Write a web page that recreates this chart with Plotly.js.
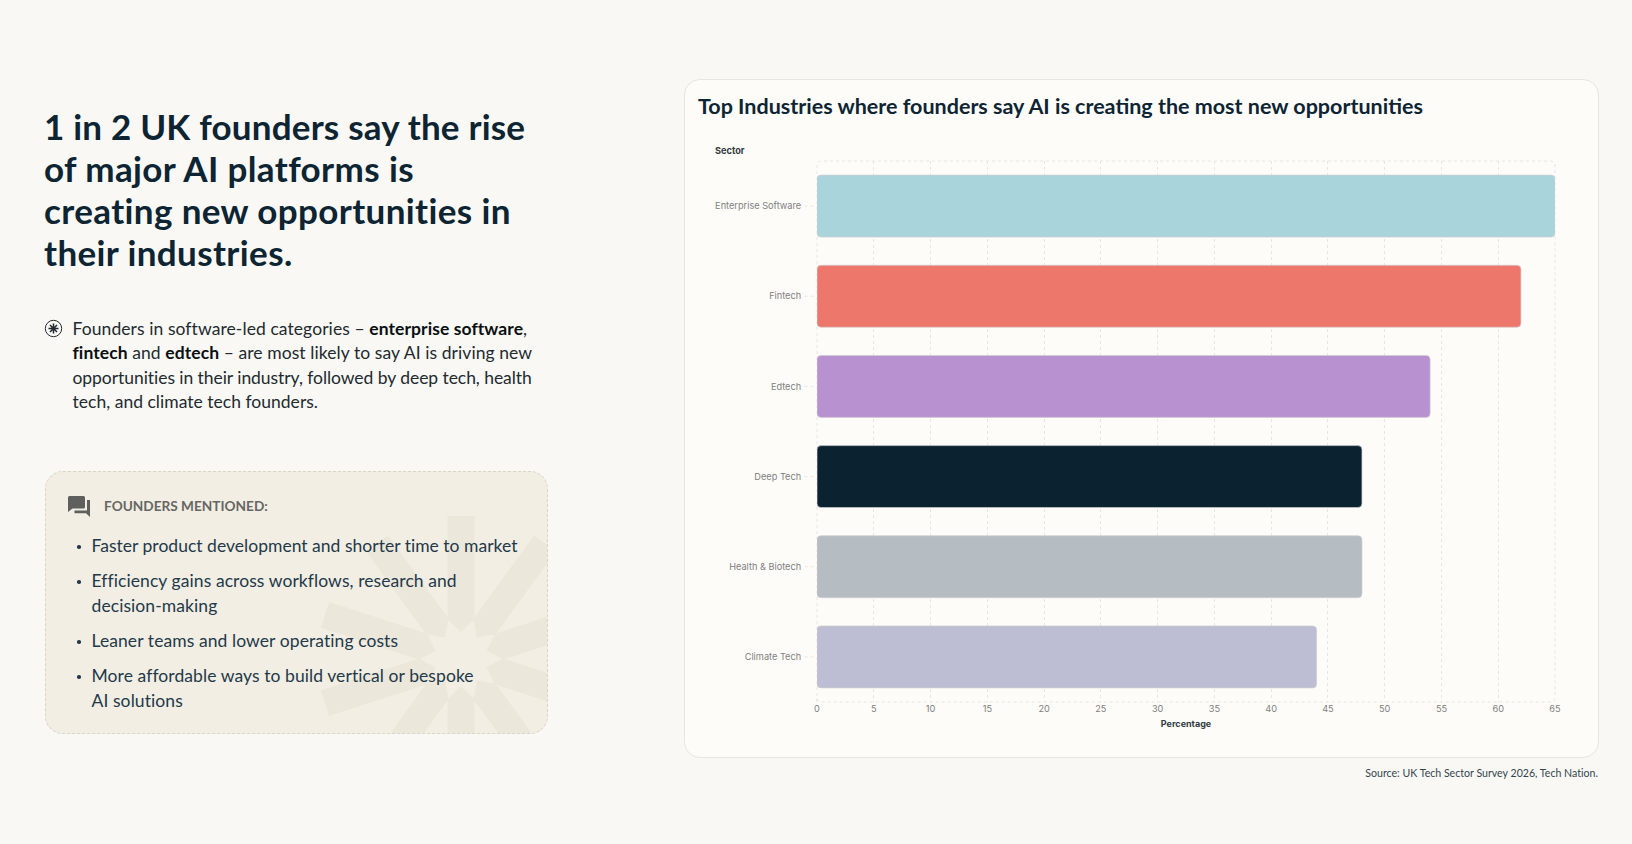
<!DOCTYPE html>
<html>
<head>
<meta charset="utf-8">
<script src="https://cdn.plot.ly/plotly-3.0.1.min.js"></script>
<style>
  html, body { margin: 0; padding: 0; width: 1632px; height: 844px; overflow: hidden; background: #f9f8f4; font-family: Lato, sans-serif; font-variant-ligatures: none; }
  .abs { position: absolute; }
  #heading { left: 44px; top: 104.5px; width: 520px; font-size: 35px; line-height: 42.2px; font-weight: 700; letter-spacing: 0.38px; color: #0d2433; white-space: nowrap; }
  #heading .first { letter-spacing: 0.2px; }
  #intro { left: 72.5px; top: 316.5px; width: 480px; font-size: 17.5px; line-height: 24.5px; letter-spacing: 0.08px; color: #222a2f; white-space: nowrap; }
  #intro b { color: #0a0f12; font-weight: 700; }
  #intro .tight { letter-spacing: -0.055px; }
  #intro .last { letter-spacing: 0.02px; }
  #mentioned { left: 45px; top: 471px; width: 503px; height: 263px; box-sizing: border-box; background: #f2eee3; border: 1.5px dashed #d9d6c8; border-radius: 18px; overflow: hidden; }
  #mentioned svg.mark { position: absolute; left: 0; top: 0; }
  #mentionedTitle { left: 104px; top: 497px; font-size: 13.65px; line-height: 18px; font-weight: 700; color: #666664; white-space: nowrap; }
  #points { left: 74px; top: 533px; margin: 0; padding: 0; list-style: none; font-size: 17.5px; line-height: 25px; letter-spacing: 0.08px; color: #23394a; white-space: nowrap; }
  #points li { margin: 0 0 10px 0; padding-left: 17.5px; position: relative; }
  #points li.first { letter-spacing: 0.02px; }
  #points li::before { content: ""; position: absolute; left: 3px; top: 12px; width: 3.5px; height: 3.5px; border-radius: 50%; background: #23394a; }
  #card { left: 684px; top: 79px; width: 915px; height: 679px; box-sizing: border-box; background: #fdfcf9; border: 1px solid #e5e5e1; border-radius: 16px; }
  #plot { left: 684px; top: 79px; width: 914px; height: 677px; }
  #source { right: 34px; top: 766px; font-size: 10.6px; line-height: 14px; color: #33454f; white-space: nowrap; }
</style>
</head>
<body>

<div class="abs" id="heading"><span class="first">1 in 2 UK founders say the rise</span><br>of major AI platforms is<br>creating new opportunities in<br>their industries.</div>

<svg class="abs" style="left:44px;top:319px" width="19" height="19" viewBox="0 0 19 19" fill="none" stroke="#222a2f">
  <circle cx="9.5" cy="9.5" r="8.2" stroke-width="1"/>
  <path d="M9.5 4.5V14.5M4.5 9.5H14.5M6 6L13 13M13 6L6 13" stroke-width="1.5"/>
</svg>
<div class="abs" id="intro">Founders in software-led categories – <b>enterprise software</b>,<br><b>fintech</b> and <b>edtech</b> – are most likely to say AI is driving new<br><span class="tight">opportunities in their industry, followed by deep tech, health</span><br><span class="last">tech, and climate tech founders.</span></div>

<div class="abs" id="mentioned">
  <svg class="mark" width="503" height="263" viewBox="45 471 503 263" fill="#ebe7da" id="rays"></svg>
</div>
<svg class="abs" style="left:67px;top:495px" width="25" height="23" viewBox="0 0 25 23">
  <path d="M2.5 1H16.5Q18 1 18 2.500V12Q18 13.500 16.500 13.500H5.500L1 17V2.500Q1 1 2.500 1Z" fill="#5f5f5e"/>
  <path d="M20 5H23V22L19 18.200H7.500V15.500H20Z" fill="#5f5f5e"/>
</svg>
<div class="abs" id="mentionedTitle">FOUNDERS MENTIONED:</div>
<ul class="abs" id="points">
  <li class="first">Faster product development and shorter time to market</li>
  <li>Efficiency gains across workflows, research and<br>decision-making</li>
  <li>Leaner teams and lower operating costs</li>
  <li>More affordable ways to build vertical or bespoke<br>AI solutions</li>
</ul>

<div class="abs" id="card"></div>
<div class="abs" id="plot"></div>
<div class="abs" id="source">Source: UK Tech Sector Survey 2026, Tech Nation.</div>

<script>
const sectors = ["Enterprise Software", "Fintech", "Edtech", "Deep Tech", "Health & Biotech", "Climate Tech"];
const percentages = [65, 62, 54, 48, 48, 44];
const xTicks = [0, 5, 10, 15, 20, 25, 30, 35, 40, 45, 50, 55, 60, 65];

const barColours = ["#a9d4dc", "#ee776b", "#b791d0", "#0b2231", "#b5bdc3", "#bdbed3"];
const gridColour = "#e6e6e2";

// watermark behind the list, ten rays around one point
const rays = document.getElementById("rays");
let rayMarkup = "";
for (let i = 0; i < 10; i++) {
    rayMarkup += '<polygon points="-13.5,-143 13.5,-143 13.5,-40 0,-27 -13.5,-40" transform="translate(460 658) rotate(' + (i * 36) + ')"/>';
}
rays.innerHTML = rayMarkup;

const bars = {
    type: "bar",
    orientation: "h",
    x: percentages,
    y: sectors,
    marker: {
        color: barColours,
        line: {color: "rgba(205,205,205,0.7)", width: 1}
    },
    hoverinfo: "x+y"
};

// plot frame, dashed with round corners
const rx = 5 / 738.5;
const ry = 5 / 541.5;
const framePath = "M 0 0 L 0 " + (1 - ry) + " Q 0 1 " + rx + " 1 L " + (1 - rx) + " 1 Q 1 1 1 " + (1 - ry) +
    " L 1 " + ry + " Q 1 0 " + (1 - rx) + " 0 L " + rx + " 0 Q 0 0 0 " + ry + " Z";

const frame = {
    type: "path",
    xref: "paper",
    yref: "paper",
    path: framePath,
    layer: "below",
    line: {color: gridColour, width: 1, dash: "3px,3px"}
};

// the little dashes between the sector names and the plot
const tickDashes = sectors.map(s => ({
    type: "line",
    xref: "paper",
    yref: "y",
    x0: -0.017,
    x1: -0.004,
    y0: s,
    y1: s,
    line: {color: gridColour, width: 1, dash: "3px,3px"}
}));

Plotly.newPlot("plot", [bars], {
    width: 914,
    height: 677,
    margin: {l: 132.5, r: 43, t: 82, b: 53.5},
    paper_bgcolor: "rgba(0,0,0,0)",
    plot_bgcolor: "rgba(0,0,0,0)",
    font: {family: "Inter, sans-serif", size: 9.2, color: "#808080"},
    title: {
        text: "<b>Top Industries where founders say AI is creating the most new opportunities</b>",
        font: {family: "Lato, sans-serif", size: 21.5, color: "#0d2433"},
        x: 14 / 914,
        xref: "container",
        xanchor: "left",
        y: 1 - 27 / 677,
        yref: "container",
        yanchor: "middle"
    },
    bargap: 0.313,
    showlegend: false,
    xaxis: {
        range: [0, 65],
        tickvals: xTicks,
        ticktext: xTicks.map(String),
        ticks: "",
        showline: false,
        zeroline: false,
        showgrid: true,
        gridcolor: gridColour,
        griddash: "3px,3px",
        gridwidth: 1,
        title: {
            text: "<b>Percentage</b>",
            font: {family: "Inter, sans-serif", size: 9, color: "#333a3f"},
            standoff: 7
        }
    },
    yaxis: {
        type: "category",
        categoryorder: "array",
        categoryarray: sectors,
        autorange: "reversed",
        showgrid: false,
        zeroline: false,
        showline: false,
        ticks: "outside",
        ticklen: 13,
        tickcolor: "rgba(0,0,0,0)"
    },
    shapes: [frame].concat(tickDashes),
    annotations: [{
        text: "<b>Sector</b>",
        xref: "paper",
        yref: "paper",
        x: -(816.5 - 715) / 738.5 - 3 / 738.5,
        y: 1 + 11 / 541.5,
        xanchor: "left",
        yanchor: "middle",
        showarrow: false,
        font: {family: "Inter, sans-serif", size: 9.2, color: "#333a3f"}
    }]
}, {displayModeBar: false}).then(() => {
    // barcornerradius only rounds the far end, these bars are round on both ends
    document.querySelectorAll("#plot .bars .point path").forEach(p => {
        const b = p.getBBox();
        const r = 4;
        p.setAttribute("d",
            "M" + (b.x + r) + "," + b.y +
            "H" + (b.x + b.width - r) + "Q" + (b.x + b.width) + "," + b.y + " " + (b.x + b.width) + "," + (b.y + r) +
            "V" + (b.y + b.height - r) + "Q" + (b.x + b.width) + "," + (b.y + b.height) + " " + (b.x + b.width - r) + "," + (b.y + b.height) +
            "H" + (b.x + r) + "Q" + b.x + "," + (b.y + b.height) + " " + b.x + "," + (b.y + b.height - r) +
            "V" + (b.y + r) + "Q" + b.x + "," + b.y + " " + (b.x + r) + "," + b.y + "Z");
    });
});
</script>
</body>
</html>
